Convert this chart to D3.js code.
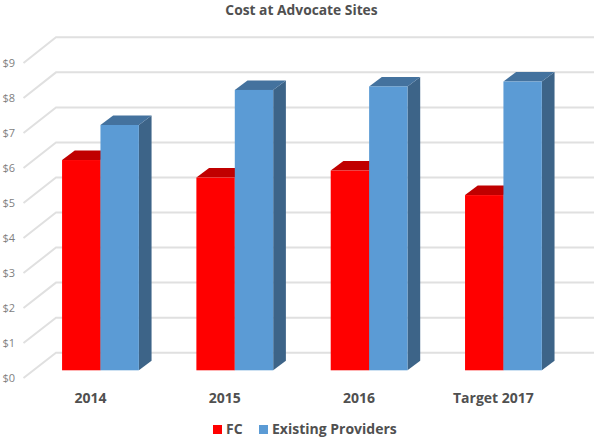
<!DOCTYPE html>
<html><head><meta charset="utf-8">
<script src="https://cdn.jsdelivr.net/npm/d3@7"></script>
<style>html,body{margin:0;padding:0;background:#fff}svg{display:block}text{font-family:"Open Sans",sans-serif}</style>
</head><body><svg id="c" width="600" height="439"></svg>
<script>
const categories=["2014","2015","2016","Target 2017"];
const seriesNames=["FC","Existing Providers"];
const fc=[6.0,5.5,5.7,5.0];
const existing=[7.0,8.0,8.1,8.24];
const ticks=[0,1,2,3,4,5,6,7,8,9];
const svg=d3.select("#c");
const W=38.4,DX=12.7,DY=9.5;
const x=d3.scaleBand().domain(categories).range([33.3,570.6]);
const yBar=d3.scaleLinear().domain([0,9]).range([370.3,54.9]);
const yBack=d3.scaleLinear().domain([0,9]).range([352.7,37.3]);
const yFront=d3.scaleLinear().domain([0,9]).range([378,63]);
const grid=svg.append("g").attr("fill","none").attr("stroke","#e0e0e0").attr("stroke-width",2);
ticks.forEach(t=>{grid.append("path").attr("d",d3.line()([[23.5,yFront(t)],[56,yBack(t)],[594,yBack(t)]]));});
svg.append("g").selectAll("text").data(ticks).join("text")
 .attr("x",15).attr("y",d=>yFront(d)+4).attr("text-anchor","end").attr("font-size",11).attr("fill","#7f7f7f")
 .text(d=>"$"+d);
const shades=[{f:"#ff0000",t:"#c00000",s:"#b00000",off:-W,vals:fc},{f:"#5b9bd5",t:"#44729e",s:"#3d6488",off:0,vals:existing}];
categories.forEach((c,i)=>{
 const cx=x(c)+x.bandwidth()/2;
 shades.forEach(sh=>{
  const l=cx+sh.off,r=l+W,b=yBar(0),t=yBar(sh.vals[i]);
  const g=svg.append("g");
  g.append("polygon").attr("points",[[r,t],[r+DX,t-DY],[r+DX,b-DY],[r,b]].join(" ")).attr("fill",sh.s);
  g.append("polygon").attr("points",[[l,t],[l+DX,t-DY],[r+DX,t-DY],[r,t]].join(" ")).attr("fill",sh.t);
  g.append("rect").attr("x",l).attr("y",t).attr("width",W).attr("height",b-t).attr("fill",sh.f);
 });
});
svg.append("g").selectAll("text").data(categories).join("text")
 .attr("x",d=>x(d)+x.bandwidth()/2-10).attr("y",403).attr("text-anchor","middle")
 .attr("font-size",14).attr("font-weight",700).attr("fill","#505050").text(d=>d);
svg.append("text").attr("x",301.5).attr("y",15).attr("text-anchor","middle").attr("font-size",13.8).attr("font-weight",700).attr("fill","#505050").text("Cost at Advocate Sites");
const lx=[213,259],tx=[226,272];
seriesNames.forEach((n,i)=>{
 svg.append("rect").attr("x",lx[i]).attr("y",425).attr("width",9).attr("height",9).attr("fill",shades[i].f);
 svg.append("text").attr("x",tx[i]).attr("y",434).attr("font-size",14).attr("font-weight",700).attr("fill","#505050").text(n);
});
</script></body></html>
